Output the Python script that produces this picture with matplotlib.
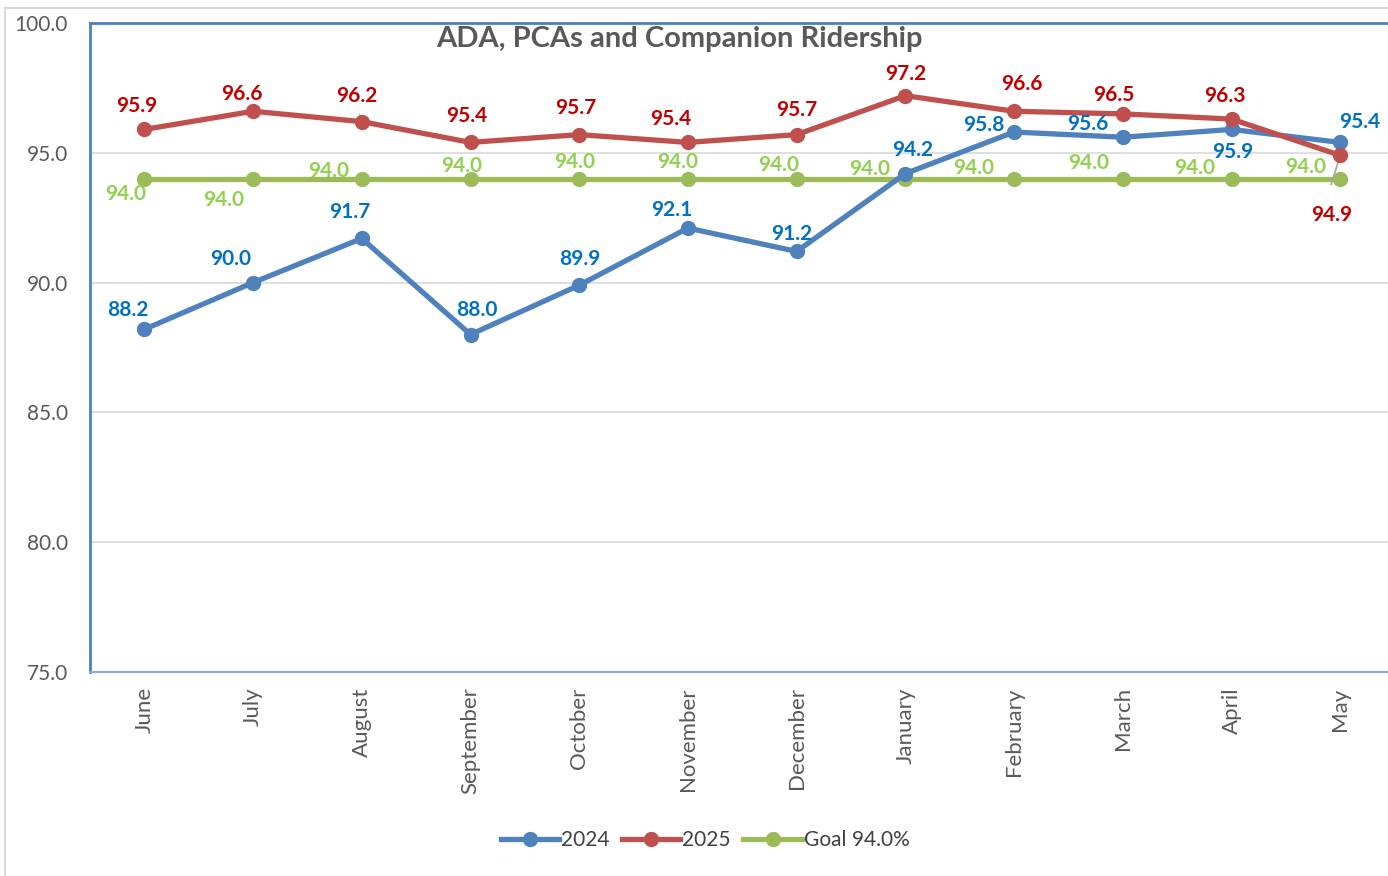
import matplotlib
matplotlib.use("Agg")
import matplotlib.pyplot as plt
from matplotlib.patches import Rectangle

months = ["June", "July", "August", "September", "October", "November",
          "December", "January", "February", "March", "April", "May"]
s2024 = [88.2, 90.0, 91.7, 88.0, 89.9, 92.1, 91.2, 94.2, 95.8, 95.6, 95.9, 95.4]
s2025 = [95.9, 96.6, 96.2, 95.4, 95.7, 95.4, 95.7, 97.2, 96.6, 96.5, 96.3, 94.9]
goal = [94.0] * 12
yticks = [75.0, 80.0, 85.0, 90.0, 95.0, 100.0]

# label offsets in pixels (dx, dy) relative to data points
off2025 = [(-8, 23), (-11, 17), (-5, 26), (-4, 26), (-3, 27), (-17, 23),
           (0, 25), (0, 22), (8, 27), (-9, 19), (-7, 23), (-9, -60)]
off2024 = [(-16, 19), (-22, 24), (-12, 26), (6, 25), (1, 26), (-16, 18),
           (-5, 17), (7, 24), (-30, 7), (-35, 13), (1, -23), (19, 20)]
offgoal = [(-19, -15), (-29, -21), (-33, 8), (-9, 13), (-5, 17), (-10, 17),
           (-18, 14), (-36, 10), (-40, 11), (-34, 16), (-37, 11), (-35, 12)]

fig = plt.figure(figsize=(13.88, 8.76), dpi=100)
fig.patch.set_facecolor("white")
fig.patches.append(Rectangle((5 / 1388, -0.1), 1.2, 1 - 8 / 876 + 0.1,
                             transform=fig.transFigure, fill=False,
                             edgecolor="#D9D9D9", lw=1.5))

ax = fig.add_axes([90 / 1388, 1 - 672 / 876, 1304.6 / 1388, (672 - 23) / 876])
x = list(range(len(months)))
FONT = "Lato"

l1, = ax.plot(x, s2024, color="#4F81BD", lw=3.8, marker="o", ms=10, label="2024", zorder=4)
l2, = ax.plot(x, s2025, color="#C0504D", lw=3.8, marker="o", ms=10, label="2025", zorder=4)
l3, = ax.plot(x, goal, color="#9BBB59", lw=3.8, marker="o", ms=10, label="Goal 94.0%", zorder=3)

LS = 15
for xi, v, (dx, dy) in zip(x, s2025, off2025):
    ax.annotate(f"{v:.1f}", (xi, v), xytext=(dx, dy), textcoords="offset pixels",
                ha="center", va="center", color="#C00000", fontsize=LS,
                fontweight="bold", family=FONT, zorder=6)
for xi, v, (dx, dy) in zip(x, s2024, off2024):
    ax.annotate(f"{v:.1f}", (xi, v), xytext=(dx, dy), textcoords="offset pixels",
                ha="center", va="center", color="#0070C0", fontsize=LS,
                fontweight="bold", family=FONT, zorder=6)
for xi, v, (dx, dy) in zip(x, goal, offgoal):
    ax.annotate(f"{v:.1f}", (xi, v), xytext=(dx, dy), textcoords="offset pixels",
                ha="center", va="center", color="#92D050", fontsize=LS,
                fontweight="bold", family=FONT, zorder=6)

# leader lines
ax.annotate("", (2, s2025[2]), xytext=(-3, 10), textcoords="offset pixels",
            arrowprops=dict(arrowstyle="-", color="#A6A6A6", lw=1))
ax.annotate("", (11, s2025[11]), xytext=(-10, -32), textcoords="offset pixels",
            arrowprops=dict(arrowstyle="-", color="#A6A6A6", lw=1.2))

ax.set_xlim(-0.5, 11.5)
ax.set_ylim(75, 100)
ax.set_yticks(yticks)
ax.set_yticklabels([f"{t:.1f}" for t in yticks], family=FONT, fontsize=15, color="#595959")
ax.set_xticks(x)
ax.set_xticklabels(months, rotation=90, family=FONT, fontsize=16, color="#595959")
ax.tick_params(axis="x", length=0, pad=11)
ax.tick_params(axis="y", length=0, pad=16)
ax.grid(axis="y", color="#D9D9D9", lw=1.2)
ax.set_axisbelow(True)
ax.spines["right"].set_visible(False)
ax.spines["left"].set_color("#4F81BD")
ax.spines["left"].set_linewidth(2)
ax.spines["top"].set_color("#4F81BD")
ax.spines["top"].set_linewidth(2)
ax.spines["bottom"].set_color("#8EA9DB")
ax.spines["bottom"].set_linewidth(1.5)

ax.text((679 - 90) / 1304.6, 0.976, "ADA, PCAs and Companion Ridership", transform=ax.transAxes,
        ha="center", va="center", fontsize=21, fontweight="bold", color="#595959", family=FONT)

fig.legend(handles=[l1, l2, l3], loc="center", bbox_to_anchor=(705 / 1388, 1 - 840 / 876),
           ncol=3, frameon=False, prop={"family": FONT, "size": 15},
           handlelength=2.8, columnspacing=0.6, handletextpad=0.1, labelcolor="#404040")

fig.savefig("out.png", dpi=100)
